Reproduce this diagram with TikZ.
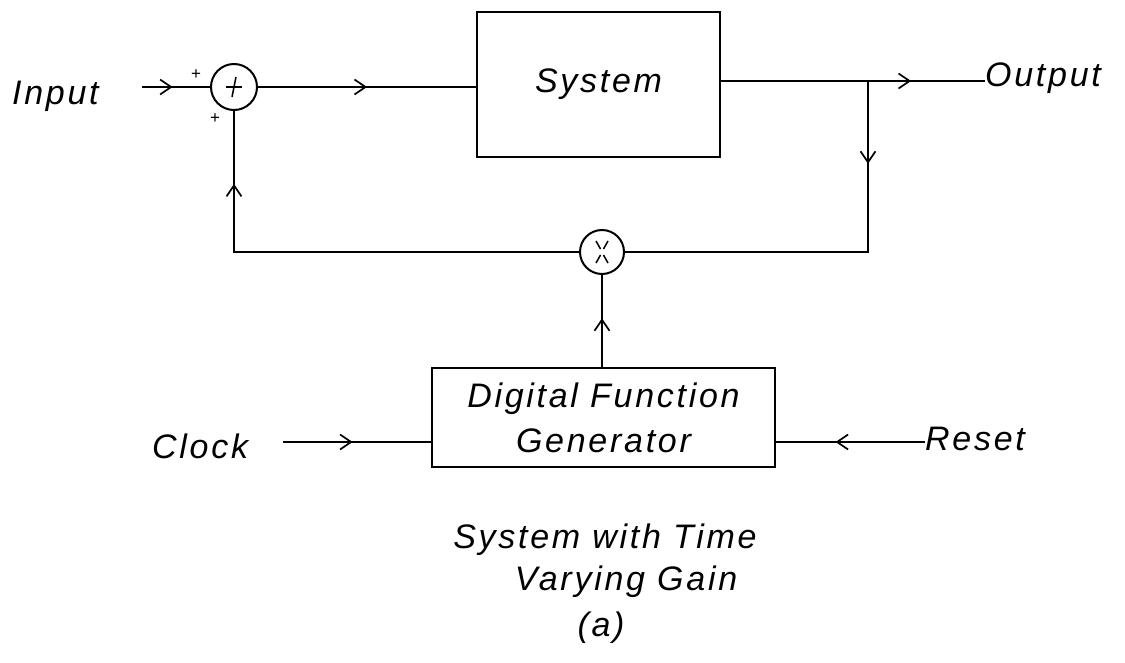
\documentclass[tikz,border=0pt]{standalone}
\usepackage{fontspec}
\setmainfont{Liberation Sans}[LetterSpace=8]
\usetikzlibrary{arrows.meta,decorations.markings}

% hand-lettered look for all labels
\newcommand\handfont{\fontsize{34}{46}\selectfont\itshape}

\tikzset{
  lbl/.style={font=\handfont, inner sep=0pt},
  blk/.style={draw, rectangle, line width=1.9pt, inner sep=0pt, font=\handfont},
  junc/.style={draw, circle, line width=2pt, minimum size=46pt, inner sep=0pt},
  wire/.style={line width=2.3pt, line join=miter},
  sign/.style={font=\fontsize{17}{17}\selectfont, inner sep=0pt},
  glyph/.style={line width=1.5pt},
  midarrow/.style={postaction={decorate},
    decoration={markings, mark=at position #1 with
      {\arrow[line width=1.7pt]{Straight Barb[length=11pt,width=15pt]}}}},
}

\begin{document}
\begin{tikzpicture}[x=1pt,y=-1pt]
\useasboundingbox (0,0) rectangle (1125,663);

% --- forward path
\node[lbl, anchor=base west] (inlbl) at (12,105) {Input};
\coordinate (instart) at (142,87);
\node[junc] (sum) at (234,87) {};
\node[blk, minimum width=243pt, minimum height=145pt] (sys) at (598.5,84.5) {System};
\coordinate (tap) at (868,81);
\node[lbl, anchor=base west] (outlbl) at (985,87) {Output};

\draw[wire, midarrow=0.45] (instart) -- (sum.west);
\draw[wire, midarrow=0.5] (sum.east) -- (sum -| sys.west);
\draw[wire, midarrow=0.72] (sys.east |- tap) -- (outlbl.west |- tap);

% summing junction signs
\node[sign] (plusa) at (196,75) {+};
\node[sign] (plusb) at (215,119) {+};
\draw[glyph] ([shift={(-8,0)}]sum.center) -- ([shift={(8,0)}]sum.center);
\draw[glyph] ([shift={(2,-10)}]sum.center) -- ([shift={(-2,10)}]sum.center);

% --- feedback path through the multiplier
\node[junc, minimum size=44pt] (mul) at (602,252) {};
\draw[glyph] ([shift={(-6,-11)}]mul.center) -- ([shift={(-1.5,-3)}]mul.center);
\draw[glyph] ([shift={(1.5,3)}]mul.center) -- ([shift={(6,11)}]mul.center);
\draw[glyph] ([shift={(6,-11)}]mul.center) -- ([shift={(1.5,-3)}]mul.center);
\draw[glyph] ([shift={(-1.5,3)}]mul.center) -- ([shift={(-6,11)}]mul.center);

\coordinate (fbR) at (868,252);
\coordinate (fbL) at (234,252);
\draw[wire, midarrow=0.2] (tap) -- (fbR) -- (mul.east);
\draw[wire, midarrow=0.85] (mul.west) -- (fbL) -- (sum.south);

% --- gain generator
\node[blk, align=center, minimum width=343pt, minimum height=99pt] (dfg) at (603.5,417.5) {Digital Function\\[-1pt]Generator};
\draw[wire, midarrow=0.53] (dfg.north -| mul) -- (mul.south);

\node[lbl, anchor=base west] (clk) at (152,458) {Clock};
\coordinate (clkstart) at (283,442);
\draw[wire, midarrow=0.47] (clkstart) -- (clkstart -| dfg.west);

\node[lbl, anchor=base west] (rst) at (925,450) {Reset};
\draw[wire, midarrow=0.6] (rst.west |- clkstart) -- (clkstart -| dfg.east);

% --- caption
\node[lbl, anchor=base] (cap1) at (605,548) {System with Time};
\node[lbl, anchor=base] (cap2) at (626,590) {Varying Gain};
\node[lbl, anchor=base] (cap3) at (601,636) {(a)};
\end{tikzpicture}
\end{document}
